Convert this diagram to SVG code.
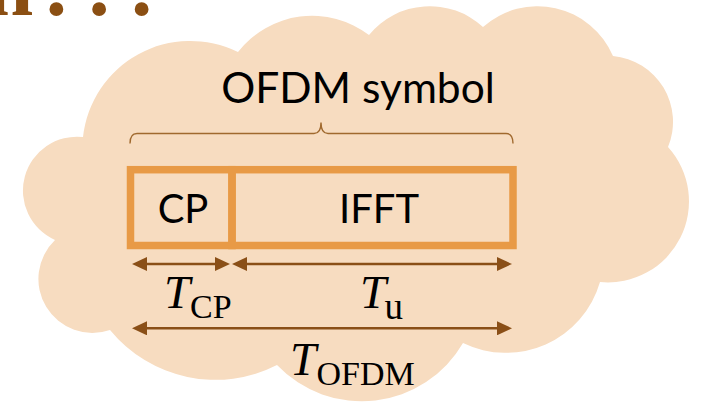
<svg xmlns="http://www.w3.org/2000/svg" width="701" height="405" viewBox="0 0 701 405">
  <style>
    .title { font-family: "Liberation Serif", "DejaVu Serif", serif; font-weight: bold; font-size: 85px; fill: #8B4F13; }
    .label { font-family: Lato, "Liberation Sans", sans-serif; font-size: 40px; fill: #000; }
    .math { font-family: "Liberation Serif", "DejaVu Serif", serif; fill: #000; }
    .sym { font-style: italic; font-size: 47px; }
    .sub { font-size: 34px; }
    .cell { fill: none; stroke: #E89A46; stroke-width: 7.5; }
    .brace { fill: none; stroke: #A0692E; stroke-width: 1.4; }
    .dim { fill: none; stroke: #8A4F17; stroke-width: 2.5; marker-start: url(#head); marker-end: url(#head); }
  </style>
  <defs>
    <marker id="head" viewBox="0 0 15 14" refX="1" refY="7" markerWidth="15" markerHeight="14" markerUnits="userSpaceOnUse" orient="auto-start-reverse">
      <path d="M0,0 L15,7 L0,14 Z" fill="#8A4F17"/>
    </marker>
  </defs>

  <!-- heading fragment along the top edge -->
  <text class="title" y="15"><tspan x="-14">n</tspan><tspan x="45.7">.</tspan><tspan x="88.4">.</tspan><tspan x="131.1">.</tspan></text>

  <!-- cloud backdrop -->
  <path id="cloud" fill="#F7DCC0" d="M55,240 A54,54 0 0 1 83,137 A108,108 0 0 1 238,52 A94,94 0 0 1 369,35 A78.5,78.5 0 0 1 483,27 A82,82 0 0 1 613,56 A66,66 0 0 1 668,147 A81,81 0 0 1 600,282 A98,98 0 0 1 463,343 A117,117 0 0 1 277,365 A136,136 0 0 1 110,330 A54,54 0 0 1 55,240 Z"/>

  <g id="symbol-label">
    <text class="label" x="358" y="103" text-anchor="middle" style="font-size:42.5px">OFDM symbol</text>
    <path class="brace" d="M130,143.5 Q130,133.5 137,133.5 L314,133.5 Q321,133.5 321,122.5 Q321,133.5 328,133.5 L506,133.5 Q513,133.5 513,143.5"/>
  </g>

  <g id="cp">
    <rect class="cell" x="130.5" y="169.7" width="101.5" height="75.8"/>
    <text class="label" x="183" y="223.3" text-anchor="middle">CP</text>
  </g>

  <g id="ifft">
    <rect class="cell" x="232" y="169.7" width="281" height="75.8"/>
    <text class="label" x="379" y="223.3" text-anchor="middle">IFFT</text>
  </g>

  <g id="connectors">
    <path class="dim" d="M146,264 L216,264"/>
    <path class="dim" d="M246,264 L498,264"/>
    <path class="dim" d="M146,328.3 L498,328.3"/>
  </g>

  <g id="t-cp">
    <text class="math"><tspan class="sym" x="164" y="308.3">T</tspan><tspan class="sub" x="190" y="318.3">CP</tspan></text>
  </g>
  <g id="t-u">
    <text class="math"><tspan class="sym" x="360" y="308">T</tspan><tspan class="sub" x="384.5" y="319.3" style="font-size:37px">u</tspan></text>
  </g>
  <g id="t-ofdm">
    <text class="math"><tspan class="sym" x="290" y="374.5">T</tspan><tspan class="sub" x="316.5" y="385">OFDM</tspan></text>
  </g>
</svg>
